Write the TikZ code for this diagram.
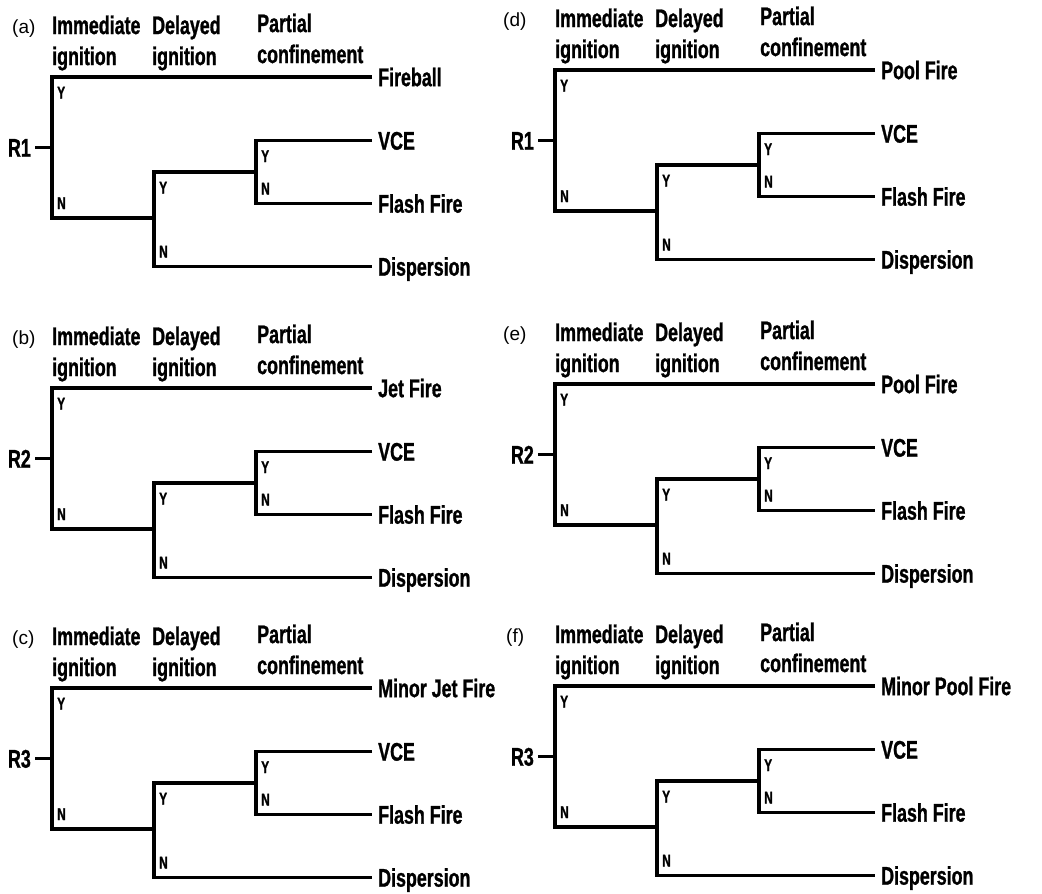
\documentclass[tikz,border=0pt]{standalone}
\usepackage{fontspec}
\setmainfont{Liberation Sans}
\newfontfamily\condfont{Liberation Sans Bold}[FakeStretch=0.70, FakeBold=1]
\tikzset{
  branch/.style={line width=3.1pt, line join=miter},
  hdr/.style={font=\condfont\fontsize{25.5}{31}\selectfont, align=left, anchor=north west, inner sep=0pt},
  outc/.style={font=\condfont\fontsize{25.5}{29}\selectfont, anchor=west, inner xsep=6pt, inner ysep=0pt, text height=18.3pt, text depth=0pt},
  yn/.style={font=\condfont\fontsize{17}{18}\selectfont, anchor=base west, inner sep=0pt},
  rlab/.style={font=\condfont\fontsize{25.5}{29}\selectfont, anchor=east, inner xsep=4pt, inner ysep=0pt, text height=18.3pt, text depth=0pt},
  plab/.style={font=\fontsize{19}{22}\selectfont, anchor=base west, inner sep=0pt},
}
\newcommand\evtree[7]{%
\begin{scope}[shift={(#2,#3)}]
  \node[plab] (#1lab) at ({#4-#2},-44) {#5};
  \node[hdr] (#1h1) at (0,-61.6) {Immediate\\ignition};
  \node[hdr] (#1h2) at (100,-61.6) {Delayed\\ignition};
  \node[hdr] (#1h3) at (205,-63.6) {Partial\\confinement};
  \coordinate (#1r0) at (0,0);
  \coordinate (#1rmid) at (0,70.5);
  \coordinate (#1r1) at (0,141);
  \coordinate (#1smid) at (102,141);
  \coordinate (#1s0) at (102,95);
  \coordinate (#1s1) at (102,189.5);
  \coordinate (#1tmid) at (204,95);
  \coordinate (#1t0) at (204,63.5);
  \coordinate (#1t1) at (204,126.5);
  \node[outc] (#1o1) at (320,0) {#7};
  \node[outc] (#1o2) at (320,63.5) {VCE};
  \node[outc] (#1o3) at (320,126.5) {Flash Fire};
  \node[outc] (#1o4) at (320,189.5) {Dispersion};
  \node[rlab] (#1R) at (-17,70.5) {#6};
  \draw[branch] (#1o1.west) -- (#1r0) -- (#1r1) -- (#1smid);
  \draw[branch] (#1o2.west) -- (#1t0) -- (#1t1) -- (#1o3.west);
  \draw[branch] (#1tmid) -- (#1s0) -- (#1s1) -- (#1o4.west);
  \draw[branch] (#1R.east) -- (#1rmid);
  \node[yn] (#1y1) at (5,21.5) {Y};
  \node[yn] (#1n1) at (5,132) {N};
  \node[yn] (#1y2) at (107,116.5) {Y};
  \node[yn] (#1n2) at (107,180.5) {N};
  \node[yn] (#1y3) at (209,85) {Y};
  \node[yn] (#1n3) at (209,117.5) {N};
\end{scope}}
\begin{document}
\begin{tikzpicture}[x=1pt,y=-1pt]
  \useasboundingbox[fill=white] (0,0) rectangle (1042,894);
  \evtree{a}{52}{77}{12}{(a)}{R1}{Fireball}
  \evtree{b}{52}{388}{12}{(b)}{R2}{Jet Fire}
  \evtree{c}{52}{688}{12}{(c)}{R3}{Minor Jet Fire}
  \evtree{d}{555}{70}{503}{(d)}{R1}{Pool Fire}
  \evtree{e}{555}{384}{503}{(e)}{R2}{Pool Fire}
  \evtree{f}{555}{686}{506}{(f)}{R3}{Minor Pool Fire}
\end{tikzpicture}
\end{document}
